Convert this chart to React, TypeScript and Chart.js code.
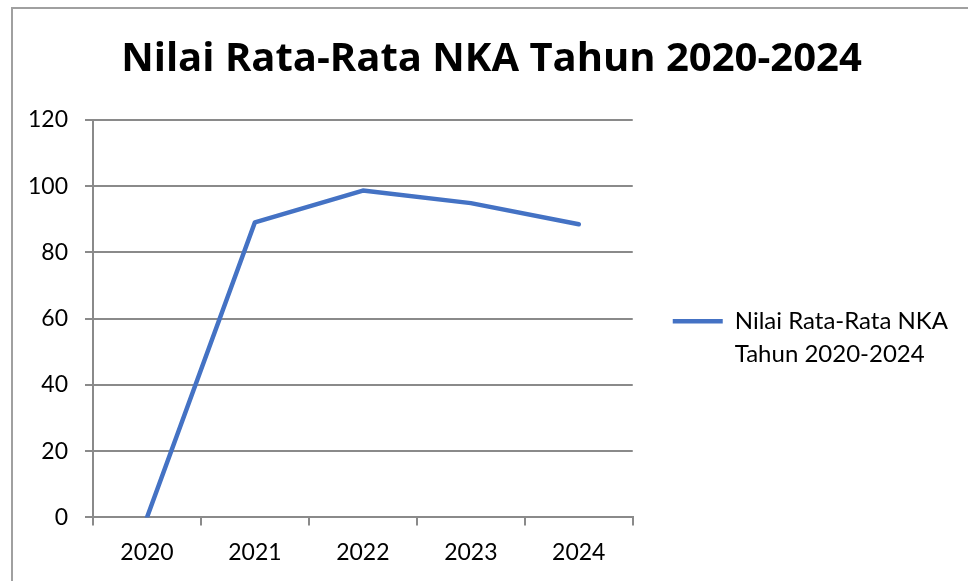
import React, { useEffect, useRef } from "react";
import { Chart, registerables } from "chart.js";

Chart.register(...registerables);

const categories: string[] = ["2020", "2021", "2022", "2023", "2024"];
const seriesValues: number[] = [0, 89.1, 98.7, 94.9, 88.5];
const seriesLabel = "Nilai Rata-Rata NKA Tahun 2020-2024";
const legendLines: string[] = ["Nilai Rata-Rata NKA", "Tahun 2020-2024"];
const chartTitle = "Nilai Rata-Rata NKA Tahun 2020-2024";
const yMin = 0;
const yMax = 120;
const yStep = 20;

const LINE_COLOR = "#4472C4";
const AXIS_COLOR = "#8a8a8a";
const FONT = "Lato";

export default function App() {
  const canvasRef = useRef<HTMLCanvasElement | null>(null);

  useEffect(() => {
    const canvas = canvasRef.current;
    if (!canvas) return;
    const chart = new Chart(canvas, {
      type: "line",
      data: {
        labels: categories,
        datasets: [
          {
            label: seriesLabel,
            data: seriesValues,
            borderColor: LINE_COLOR,
            backgroundColor: LINE_COLOR,
            borderWidth: 4.5,
            pointRadius: 0,
            pointHoverRadius: 0,
            tension: 0,
            borderCapStyle: "round",
            borderJoinStyle: "round",
            fill: false,
          },
        ],
      },
      options: {
        responsive: false,
        animation: false,
        devicePixelRatio: 1,
        layout: { padding: { left: 25, right: 10, top: 0, bottom: 2 } },
        font: { family: FONT },
        plugins: {
          tooltip: { enabled: false },
          title: {
            display: true,
            text: chartTitle,
            color: "#000000",
            font: { family: "Open Sans", size: 40, weight: "bold", lineHeight: 1.2 },
            padding: { top: 36, bottom: 36 },
          },
          legend: {
            display: true,
            position: "right",
            align: "center",
            fullSize: false,
            maxWidth: 600,
            title: {
              display: true,
              text: " ",
              color: "rgba(0,0,0,0)",
              font: { size: 10, lineHeight: 1.2 },
              padding: { top: 35, bottom: 0 },
            },
            labels: {
              usePointStyle: true,
              pointStyle: "line",
              pointStyleWidth: 50,
              padding: 40,
              color: "#000000",
              font: { family: FONT, size: 24, lineHeight: 1.375 },
              generateLabels: (c: any) =>
                Chart.defaults.plugins.legend.labels
                  .generateLabels(c)
                  .map((item: any) => ({ ...item, text: legendLines })),
            },
          },
        },
        scales: {
          x: {
            type: "category",
            offset: true,
            grid: {
              offset: true,
              display: true,
              drawOnChartArea: false,
              drawTicks: true,
              tickLength: 8,
              color: AXIS_COLOR,
              lineWidth: 2,
            },
            border: { display: true, color: AXIS_COLOR, width: 2 },
            ticks: {
              color: "#000000",
              padding: 13,
              font: { family: FONT, size: 23 },
              maxRotation: 0,
            },
          },
          y: {
            min: yMin,
            max: yMax,
            afterFit: (scale: any) => {
              scale.width = 68;
            },
            grid: {
              display: true,
              drawOnChartArea: true,
              drawTicks: true,
              tickLength: 8,
              color: AXIS_COLOR,
              lineWidth: 2,
            },
            border: { display: true, color: AXIS_COLOR, width: 2 },
            ticks: {
              stepSize: yStep,
              color: "#000000",
              padding: 17,
              font: { family: FONT, size: 23 },
            },
          },
        },
      },
    });
    return () => chart.destroy();
  }, []);

  return (
    <div
      style={{
        position: "fixed",
        left: 0,
        top: 0,
        width: 968,
        height: 581,
        overflow: "hidden",
        background: "#ffffff",
      }}
    >
      <div
        style={{
          position: "absolute",
          left: 11,
          top: 7,
          width: 2000,
          height: 2000,
          borderLeft: "2px solid #a0a0a0",
          borderTop: "2px solid #a0a0a0",
        }}
      />
      <canvas
        ref={canvasRef}
        width={968}
        height={581}
        style={{ position: "absolute", left: 0, top: 0 }}
      />
    </div>
  );
}
